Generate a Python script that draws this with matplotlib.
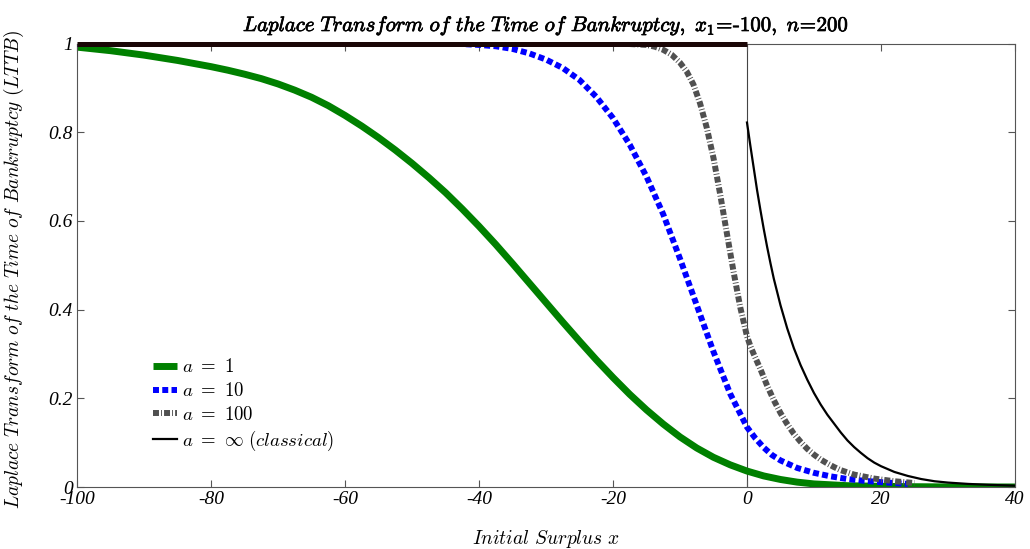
import matplotlib
matplotlib.use("Agg")
import matplotlib.pyplot as plt
import matplotlib.patheffects as pe

plt.rcParams['mathtext.fontset'] = 'cm'

# a = 1
x_a1 = [-100, -97.5, -95, -92.5, -90, -87.5, -85, -82.5, -80, -77.5, -75, -72.5, -70,
        -67.5, -65, -62.5, -60, -57.5, -55, -52.5, -50, -47.5, -45, -42.5, -40, -37.5,
        -35, -32.5, -30, -27.5, -25, -22.5, -20, -17.5, -15, -12.5, -10, -7.5, -5, -2.5,
        0, 2.5, 5, 7.5, 10, 15, 20, 25, 30, 40]
y_a1 = [0.992, 0.988, 0.984, 0.979, 0.974, 0.968, 0.962, 0.955, 0.948, 0.940, 0.931,
        0.921, 0.909, 0.895, 0.879, 0.860, 0.838, 0.814, 0.788, 0.760, 0.730, 0.698,
        0.664, 0.627, 0.588, 0.547, 0.504, 0.460, 0.416, 0.372, 0.329, 0.287, 0.247,
        0.209, 0.174, 0.142, 0.113, 0.088, 0.067, 0.050, 0.036, 0.025, 0.017, 0.011,
        0.007, 0.003, 0.0015, 0.0007, 0.0003, 0.0001]

# a = 10
x_a10 = [-100, -47.5, -45, -42.5, -40, -37.5, -35, -32.5, -30, -27.5, -25, -22.5, -20,
         -17.5, -15, -12.5, -10, -7.5, -5, -2.5, 0, 1.25, 2.5, 3.75, 5, 7.5, 10, 12.5,
         15, 17.5, 20, 22, 24]
y_a10 = [1.0, 1.0, 1.0, 0.999, 0.997, 0.994, 0.988, 0.978, 0.964, 0.945, 0.918, 0.880,
         0.832, 0.772, 0.700, 0.615, 0.515, 0.410, 0.305, 0.210, 0.135, 0.110, 0.089,
         0.072, 0.060, 0.043, 0.032, 0.024, 0.018, 0.014, 0.011, 0.009, 0.007]

# a = 100
x_a100 = [-100, -20, -17.5, -15, -13.75, -12.5, -11.25, -10, -9, -8, -7, -6, -5, -4, -3,
          -2, -1, 0, 0.5, 1, 2, 3, 4, 5, 6, 7, 8, 9, 10, 11, 12, 13, 14, 16, 19, 22, 25]
y_a100 = [1.0, 1.0, 0.999, 0.997, 0.993, 0.986, 0.975, 0.957, 0.937, 0.908, 0.865, 0.81,
          0.742, 0.66, 0.572, 0.485, 0.405, 0.34, 0.318, 0.30, 0.266, 0.229, 0.196,
          0.167, 0.142, 0.12, 0.102, 0.086, 0.073, 0.062, 0.053, 0.045, 0.038, 0.028,
          0.019, 0.013, 0.009]

# classical (a = infinity)
x_cl_neg = [-100, 0]
y_cl_neg = [1.0, 1.0]
x_cl = [0, 0.5, 1, 1.5, 2, 2.5, 3, 3.5, 4, 5, 6, 7, 8, 9, 10, 11, 12, 13, 14, 15, 16,
        17, 18, 19, 20, 22, 24, 26, 28, 30, 33, 36, 40]
y_cl = [0.822, 0.77, 0.72, 0.67, 0.625, 0.582, 0.542, 0.505, 0.47, 0.41, 0.358, 0.313,
        0.275, 0.242, 0.212, 0.186, 0.163, 0.143, 0.123, 0.105, 0.09, 0.077, 0.065,
        0.055, 0.047, 0.034, 0.025, 0.018, 0.013, 0.01, 0.007, 0.005, 0.003]

xticks = [-100, -80, -60, -40, -20, 0, 20, 40]
xtick_labels = ['-100', '-80', '-60', '-40', '-20', '0', '20', '40']
yticks = [0, 0.2, 0.4, 0.6, 0.8, 1]
ytick_labels = ['0', '0.2', '0.4', '0.6', '0.8', '1']

fig = plt.figure(figsize=(10.30, 5.49), dpi=100)
ax = fig.add_axes([0.0748, 0.1129, 0.9106, 0.8077])

ax.axvline(0, color='#444444', lw=0.8, zorder=1)

l1, = ax.plot(x_a1, y_a1, color='#008000', lw=5, solid_capstyle='butt', zorder=2)
l2, = ax.plot(x_a10, y_a10, color='#0000ff', lw=4.3, linestyle=(0, (1, 0.55)), zorder=3)
l3, = ax.plot(x_a100, y_a100, color='#505050', lw=4.3,
              linestyle=(0, (1, 0.35, 0.15, 0.35)), zorder=4)
ax.plot(x_cl_neg, y_cl_neg, color='#1a0606', lw=3.6, clip_on=False, zorder=6,
        solid_capstyle='butt')
l4, = ax.plot(x_cl, y_cl, color='black', lw=1.6, zorder=5)

ax.set_xlim(-100, 40)
ax.set_ylim(0, 1)
tick_font = dict(family='Liberation Serif', style='italic', size=14)
ax.set_xticks(xticks)
ax.set_xticklabels(xtick_labels, fontdict=tick_font)
ax.set_yticks(yticks)
ax.set_yticklabels(ytick_labels, fontdict=tick_font)
ax.tick_params(direction='in', length=5, width=0.8, color='#555555',
               top=True, right=True, pad=3)
for s in ax.spines.values():
    s.set_color('#555555')
    s.set_linewidth(0.8)

ax.set_title(r'$Laplace\ Transform\ of\ the\ Time\ of\ Bankruptcy,\ x_1\!=\!\text{-}100,\ n\!=\!200$',
             fontsize=15, pad=9,
             path_effects=[pe.withStroke(linewidth=0.5, foreground='black')])
ax.set_xlabel(r'$Initial\ Surplus\ x$', fontsize=14)
ax.xaxis.set_label_coords(0.5, -0.093)
ax.set_ylabel(r'$Laplace\ Transform\ of\ the\ Time\ of\ Bankruptcy\ (LTTB)$', fontsize=14)
ax.yaxis.set_label_coords(-0.054, 0.49)

ax.legend([l1, l2, l3, l4],
          [r'$a\ =\ 1$', r'$a\ =\ 10$', r'$a\ =\ 100$', r'$a\ =\ \infty\ (classical)$'],
          loc='upper left', bbox_to_anchor=(0.139, 0.366), bbox_transform=fig.transFigure,
          frameon=False, fontsize=13.5, handlelength=1.3, handletextpad=0.25,
          labelspacing=0.25, borderpad=0)

fig.savefig('out.png', dpi=100)
